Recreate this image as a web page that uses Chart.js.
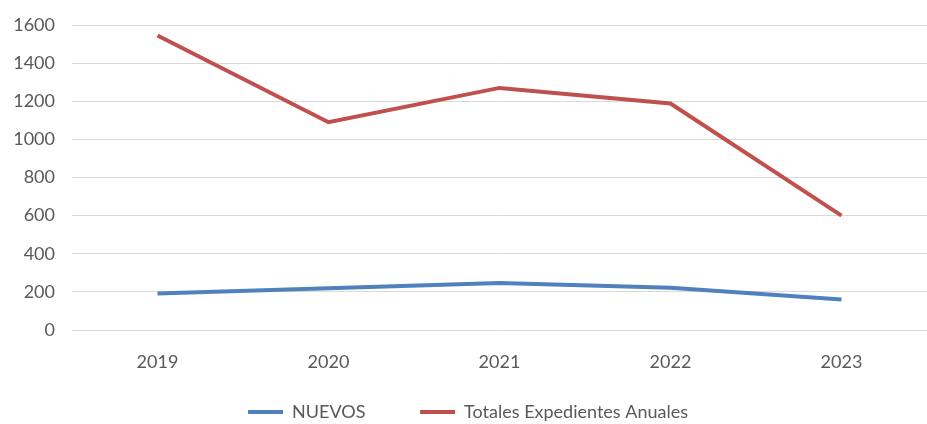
<!DOCTYPE html>
<html>
<head>
<meta charset="utf-8">
<script src="https://cdn.jsdelivr.net/npm/chart.js@4/dist/chart.umd.min.js"></script>
<style>
  html, body { margin: 0; padding: 0; background: #ffffff; }
  #wrap { width: 927px; height: 424px; }
</style>
</head>
<body>
<div id="wrap"><canvas id="c" width="927" height="424"></canvas></div>
<script>
const years = ['2019', '2020', '2021', '2022', '2023'];
const nuevos = [191, 219, 247, 221, 160];
const totales = [1545, 1090, 1270, 1188, 600];
const yTicks = [0, 200, 400, 600, 800, 1000, 1200, 1400, 1600];

const FONT = 'Lato, "Liberation Sans", sans-serif';
const TXT = '#595959';

new Chart(document.getElementById('c'), {
  type: 'line',
  data: {
    labels: years,
    datasets: [
      { label: 'NUEVOS', data: nuevos, borderColor: '#4F81BD', backgroundColor: '#4F81BD',
        borderWidth: 4, pointRadius: 0, tension: 0 },
      { label: 'Totales Expedientes Anuales', data: totales, borderColor: '#C0504D', backgroundColor: '#C0504D',
        borderWidth: 4, pointRadius: 0, tension: 0 }
    ]
  },
  options: {
    responsive: false,
    animation: false,
    layout: { padding: { left: 0, right: -9, top: 25, bottom: -7 } },
    plugins: {
      tooltip: { enabled: false },
      legend: {
        position: 'bottom',
        labels: {
          font: { family: FONT, size: 18 },
          color: TXT,
          boxWidth: 35,
          boxHeight: 4,
          padding: 4,
          generateLabels(chart) {
            const items = Chart.defaults.plugins.legend.labels.generateLabels(chart);
            items.forEach(i => { i.lineWidth = 0; i.text = i.text + '           '; });
            items[items.length - 1].text = items[items.length - 1].text.trim();
            return items;
          }
        }
      }
    },
    scales: {
      x: {
        offset: true,
        afterFit(scale) { scale.height = 69; },
        grid: { display: false, drawTicks: false },
        border: { display: false },
        ticks: { font: { family: FONT, size: 18 }, color: TXT, padding: 21 }
      },
      y: {
        min: 0, max: 1600,
        afterFit(scale) { scale.width = 72; scale.paddingTop = 0; scale.paddingBottom = 0; },
        afterBuildTicks(axis) { axis.ticks = yTicks.map(v => ({ value: v })); },
        grid: { color: '#d9d9d9', lineWidth: 1, drawTicks: false },
        border: { display: false },
        ticks: { font: { family: FONT, size: 18 }, color: TXT, padding: 17,
                 callback: v => String(v) }
      }
    }
  }
});
</script>
</body>
</html>
